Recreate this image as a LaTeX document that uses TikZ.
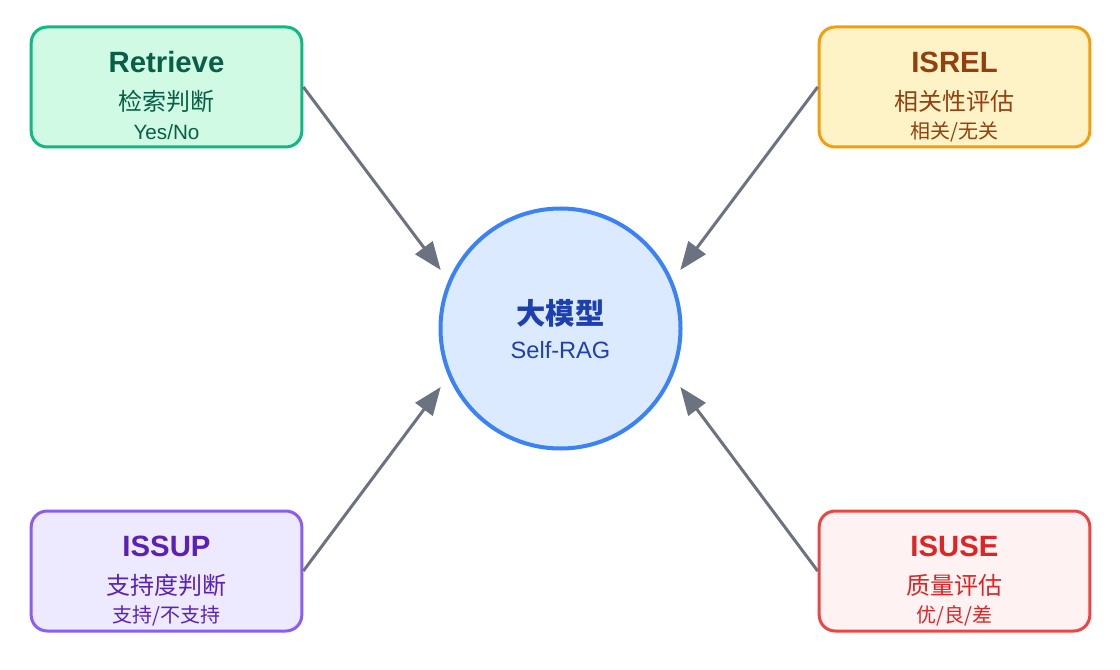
\documentclass[tikz,border=0pt]{standalone}
\usepackage{fontspec}
\setmainfont{Liberation Sans}
\newfontfamily\cjk{Noto Sans CJK SC}
\usetikzlibrary{arrows.meta}
\definecolor{gfill}{HTML}{D1FAE5}\definecolor{gline}{HTML}{10B981}\definecolor{gtext}{HTML}{065F46}
\definecolor{yfill}{HTML}{FEF3C7}\definecolor{yline}{HTML}{F59E0B}\definecolor{ytext}{HTML}{92400E}
\definecolor{pfill}{HTML}{EDE9FE}\definecolor{pline}{HTML}{8B5CF6}\definecolor{ptext}{HTML}{5B21B6}
\definecolor{rfill}{HTML}{FEF2F2}\definecolor{rline}{HTML}{EF4444}\definecolor{rtext}{HTML}{DC2626}
\definecolor{bfill}{HTML}{DBEAFE}\definecolor{bline}{HTML}{3B82F6}\definecolor{btext}{HTML}{1E40AF}
\definecolor{arrowgray}{HTML}{6B7280}
\begin{document}
\begin{tikzpicture}[x=0.75pt,y=-0.75pt,
  box/.style={draw, rounded corners=12pt, line width=2.25pt, minimum width=203pt, minimum height=90pt, inner sep=0pt},
  ttl/.style={font=\fontsize{22}{24}\selectfont\bfseries, inner sep=0pt},
  sub/.style={font=\cjk\fontsize{18}{20}\selectfont, inner sep=0pt},
  small/.style={font=\cjk\fontsize{15}{18}\selectfont, inner sep=0pt},
  smalllat/.style={font=\fontsize{15.5}{18}\selectfont, inner sep=0pt},
  arr/.style={draw=arrowgray, line width=2.25pt, -{Triangle[length=21pt,width=16pt]}}]
\useasboundingbox (0,0) rectangle (1120,670);
% centre
\node[draw=bline, fill=bfill, circle, line width=3pt, minimum size=180pt, inner sep=0pt] (llm) at (560.5,328.5) {};
\node[font=\cjk\bfseries\fontsize{22}{24}\selectfont, text=btext, inner sep=0pt] (llmT) at (560.5,313) {大模型};
\node[font=\fontsize{17.7}{20}\selectfont, text=btext, inner sep=0pt] (llmS) at (560.5,350) {Self-RAG};
% Retrieve
\node[box, draw=gline, fill=gfill] (ret) at (166.5,87) {};
\node[ttl, text=gtext] (retT) at (166.5,62) {Retrieve};
\node[sub, text=gtext] (retS) at (166.5,101) {检索判断};
\node[smalllat, text=gtext] (retU) at (166.5,132) {Yes/No};
% ISREL
\node[box, draw=yline, fill=yfill] (rel) at (954.5,87) {};
\node[ttl, text=ytext] (relT) at (954.5,62) {ISREL};
\node[sub, text=ytext] (relS) at (954.5,101) {相关性评估};
\node[small, text=ytext] (relU) at (954.5,132) {相关/无关};
% ISSUP
\node[box, draw=pline, fill=pfill] (sup) at (166.5,571) {};
\node[ttl, text=ptext] (supT) at (166.5,546) {ISSUP};
\node[sub, text=ptext] (supS) at (166.5,585) {支持度判断};
\node[small, text=ptext] (supU) at (166.5,616) {支持/不支持};
% ISUSE
\node[box, draw=rline, fill=rfill] (use) at (954.5,571) {};
\node[ttl, text=rtext] (useT) at (954.5,546) {ISUSE};
\node[sub, text=rtext] (useS) at (954.5,585) {质量评估};
\node[small, text=rtext] (useU) at (954.5,616) {优/良/差};
% arrow ends
\coordinate (t1) at (440.7,270);
\coordinate (t2) at (680.3,270);
\coordinate (t3) at (440.7,387);
\coordinate (t4) at (680.3,387);
\draw[arr] (ret.east) -- (t1);
\draw[arr] (rel.west) -- (t2);
\draw[arr] (sup.east) -- (t3);
\draw[arr] (use.west) -- (t4);
\end{tikzpicture}
\end{document}
